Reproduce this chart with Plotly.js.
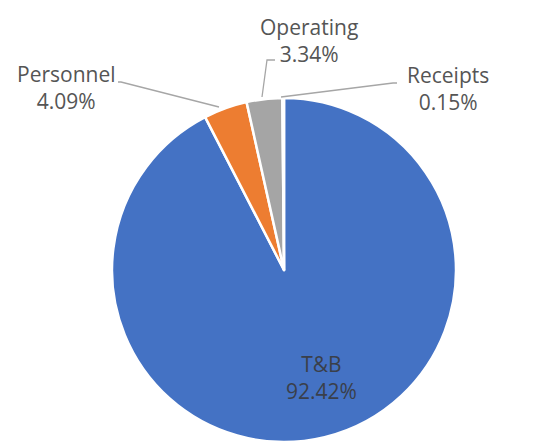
<!DOCTYPE html>
<html>
<head>
<meta charset="utf-8">
<script src="https://cdn.plot.ly/plotly-3.0.1.min.js"></script>
<style>
  html, body { margin: 0; padding: 0; background: #fff; }
  #plot { width: 534px; height: 445px; }
</style>
</head>
<body>
<div id="plot"></div>
<script>
// expense shares (percent), clockwise from 12 o'clock
var categories = ["T&B", "Personnel", "Operating", "Receipts"];
var shares = [92.42, 4.09, 3.34, 0.15];
var colors = ["#4472C4", "#ED7D31", "#A5A5A5", "#FFC000"];

var W = 534, H = 445;
// pixel helpers -> paper coords
function px(x) { return x / W; }
function py(y) { return 1 - y / H; }

// label centres (pixels)
var labelPos = [[321, 377], [66, 88], [309, 40], [448, 89]];

var annotations = [];
for (var i = 0; i < categories.length; i++) {
  annotations.push({
    x: px(labelPos[i][0]), y: py(labelPos[i][1]),
    xref: "paper", yref: "paper",
    xanchor: "center", yanchor: "middle",
    showarrow: false,
    text: categories[i] + "<br>" + shares[i].toFixed(2) + "%",
    font: {family: "Open Sans", size: 21, color: i == 0 ? "#3a3f4a" : "#555555"}
  });
}

// leader lines for the outside labels
function leader(pts) {
  var d = "";
  for (var k = 0; k < pts.length; k++) {
    d += (k == 0 ? "M" : " L") + px(pts[k][0]) + "," + py(pts[k][1]);
  }
  return {type: "path", xref: "paper", yref: "paper", path: d,
          line: {color: "#A6A6A6", width: 1.3}};
}
var shapes = [
  leader([[118, 82], [121, 82], [219, 107]]),
  leader([[275, 60], [267, 60], [262, 97]]),
  leader([[397, 83], [393, 83], [281, 97]])
];

var trace = {
  type: "pie",
  labels: categories,
  values: shares,
  sort: false,
  direction: "clockwise",
  rotation: 0,
  textinfo: "none",
  hoverinfo: "none",
  marker: {colors: colors, line: {color: "#ffffff", width: 2.5}},
  domain: {x: [px(112), px(456)], y: [py(442), py(98)]}
};

Plotly.newPlot("plot", [trace], {
  width: W, height: H,
  margin: {l: 0, r: 0, t: 0, b: 0},
  showlegend: false,
  paper_bgcolor: "#ffffff",
  annotations: annotations,
  shapes: shapes
}, {displayModeBar: false, staticPlot: true});
</script>
</body>
</html>
